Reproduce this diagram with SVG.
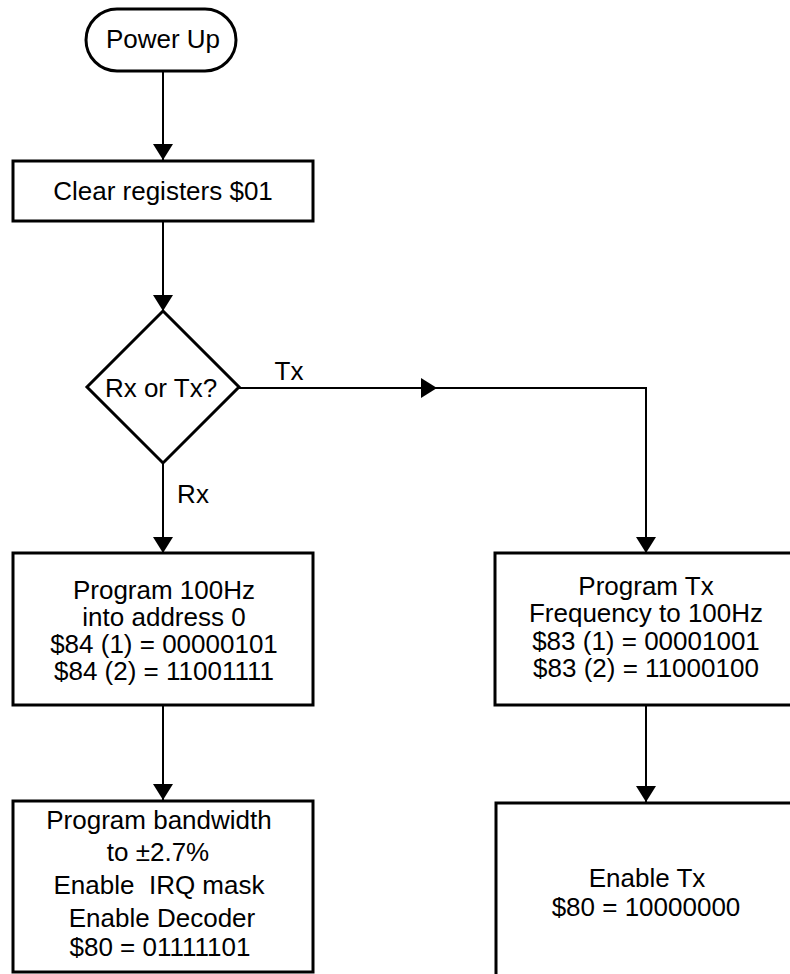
<svg xmlns="http://www.w3.org/2000/svg" width="790" height="974" viewBox="0 0 790 974">
<style>
.box{fill:#fff;stroke:#000;stroke-width:3}
.con{fill:none;stroke:#000;stroke-width:2}
text{font-family:"Liberation Sans",Arial,sans-serif;font-size:26px;fill:#000;text-anchor:middle;white-space:pre}
</style>
<defs>
<marker id="ah" markerUnits="userSpaceOnUse" markerWidth="18" markerHeight="20" refX="16" refY="10" orient="auto">
<path d="M0,0 L16,10 L0,20 Z" fill="#000"/>
</marker>
</defs>
<rect width="790" height="974" fill="#fff"/>
<g id="connectors">
<line class="con" x1="163" y1="71" x2="163" y2="160" marker-end="url(#ah)"/>
<line class="con" x1="163" y1="222" x2="163" y2="311" marker-end="url(#ah)"/>
<line class="con" x1="163" y1="464" x2="163" y2="553" marker-end="url(#ah)"/>
<line class="con" x1="163" y1="706" x2="163" y2="800" marker-end="url(#ah)"/>
<line class="con" x1="239" y1="388" x2="437" y2="388" marker-end="url(#ah)"/>
<path class="con" d="M436,388 H646 V553" marker-end="url(#ah)"/>
<line class="con" x1="646" y1="706" x2="646" y2="802" marker-end="url(#ah)"/>
<text x="289" y="380">Tx</text>
<text x="193" y="503">Rx</text>
</g>
<g id="power-up">
<rect class="box" x="86" y="9" width="150" height="62" rx="31" ry="31"/>
<text x="163" y="48">Power Up</text>
</g>
<g id="clear-registers">
<rect class="box" x="13" y="161" width="300" height="60"/>
<text x="163" y="200">Clear registers $01</text>
</g>
<g id="decision">
<polygon class="box" points="163,311 239,387 163,463 87,387"/>
<text x="161" y="397">Rx or Tx?</text>
</g>
<g id="program-rx">
<rect class="box" x="13" y="553" width="300" height="152"/>
<text x="164" y="599">Program 100Hz</text>
<text x="164" y="626">into address 0</text>
<text x="164" y="653">$84 (1) = 00000101</text>
<text x="164" y="680">$84 (2) = 11001111</text>
</g>
<g id="program-tx">
<rect class="box" x="495" y="553" width="310" height="152"/>
<text x="646" y="595">Program Tx</text>
<text x="646" y="622">Frequency to 100Hz</text>
<text x="646" y="650">$83 (1) = 00001001</text>
<text x="646" y="677">$83 (2) = 11000100</text>
</g>
<g id="rx-setup">
<rect class="box" x="13" y="801" width="300" height="171"/>
<text x="159" y="829">Program bandwidth</text>
<text x="158" y="861">to ±2.7%</text>
<text x="159" y="894">Enable  IRQ mask</text>
<text x="162" y="927">Enable Decoder</text>
<text x="160" y="956">$80 = 01111101</text>
</g>
<g id="enable-tx">
<rect class="box" x="496" y="803" width="310" height="200"/>
<text x="647" y="887">Enable Tx</text>
<text x="646" y="916">$80 = 10000000</text>
</g>
</svg>
